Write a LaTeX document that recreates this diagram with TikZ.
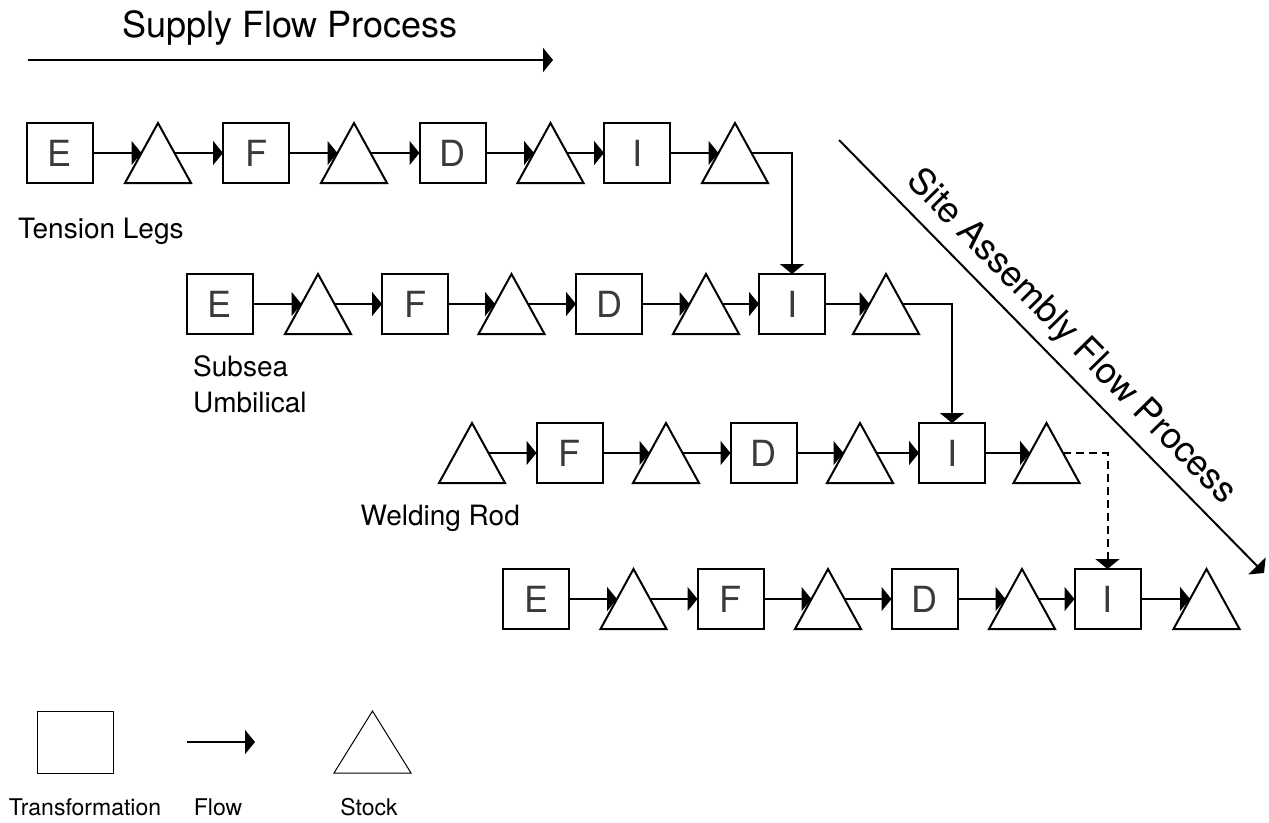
\documentclass[tikz,border=0pt]{standalone}
\usepackage{fontspec}
\setmainfont{TeX Gyre Heros}
\usetikzlibrary{arrows.meta,calc}
\definecolor{lettergray}{HTML}{3A3A3A}
\tikzset{
  trans/.style={draw,line width=2pt,minimum width=66pt,minimum height=60pt,inner sep=0pt,outer sep=0pt,text=lettergray,font=\fontsize{36}{40}\selectfont},
  stock/.style={minimum width=33pt,minimum height=60pt,inner sep=0pt,outer sep=0pt},
  flow/.style={line width=2pt,-{Triangle[length=10pt,width=24pt]}},
  lbl/.style={font=\fontsize{28}{36}\selectfont,inner sep=0pt},
  title/.style={font=\fontsize{36}{40}\selectfont,inner sep=0pt},
  legend/.style={font=\fontsize{23}{28}\selectfont,inner sep=0pt},
}
% triangle drawn round a stock node (node is half as wide as the triangle)
\newcommand{\stocktri}[2][line width=2pt]{%
  \draw[#1] ($(#2.south east)!1.5!(#2.south west)$) -- (#2.north) -- ($(#2.south west)!1.5!(#2.south east)$) -- cycle;}

\begin{document}
\begin{tikzpicture}[x=1pt,y=-1pt]
\useasboundingbox (0,0) rectangle (1269,822);
% supply flow
\node[title,anchor=base west] (sfp) at (122,37) {Supply Flow Process};
\coordinate (sf0) at (28,60);
\coordinate (sf1) at (553,60);
\draw[flow] (sf0) -- (sf1);

% rows E-F-D-I
\foreach \r/\y/\xa/\xb/\xc/\xd/\xe/\xf/\xg/\xh in {1/153/60/158/256/354/452.5/550.5/637/735,2/304/220/318/415/511.5/609/706/792/886,4/599/536/633.5/730.5/828/924.5/1022/1107.5/1206.5}{
  \node[trans] (r\r-b1) at (\xa,\y) {E};
  \node[stock] (r\r-t1) at (\xb,\y) {};
  \node[trans] (r\r-b2) at (\xc,\y) {F};
  \node[stock] (r\r-t2) at (\xd,\y) {};
  \node[trans] (r\r-b3) at (\xe,\y) {D};
  \node[stock] (r\r-t3) at (\xf,\y) {};
  \node[trans] (r\r-b4) at (\xg,\y) {I};
  \node[stock] (r\r-t4) at (\xh,\y) {};
}
% welding rod row
\foreach \n/\x/\l in {2/569.5/F,3/763.5/D,4/952/I}
  \node[trans] (r3-b\n) at (\x,453) {\l};
\foreach \n/\x in {1/472,2/666,3/860,4/1046.5}
  \node[stock] (r3-t\n) at (\x,453) {};

\foreach \r in {1,...,4}{
  \foreach \n in {1,...,4}{\stocktri{r\r-t\n}}}

% flows
\foreach \r in {1,2,4}
  \foreach \n in {1,...,4}
    \draw[flow] (r\r-b\n) -- (r\r-t\n);
\foreach \n in {2,3,4}
  \draw[flow] (r3-b\n) -- (r3-t\n);
\foreach \r in {1,...,4}
  \foreach \n [count=\m from 2] in {1,2,3}
    \draw[flow] (r\r-t\n) -- (r\r-b\m);
\draw[flow] (r1-t4) -| (r2-b4);
\draw[flow] (r2-t4) -| (r3-b4);
\draw[flow,dash pattern=on 8pt off 5pt] (r3-t4) -| (r4-b4);

% site assembly
\coordinate (sa0) at (839,140);
\coordinate (sa1) at (1264,573);
\draw[flow] (sa0) -- (sa1) node[title,midway,sloped,above=9pt] (safp) {Site Assembly Flow Process};

% row labels
\node[lbl,anchor=base west] (tl) at (18,238) {Tension Legs};
\node[lbl,anchor=base west,align=left] (su) at (193,412) {Subsea\\Umbilical};
\node[lbl,anchor=base east] (wr) at (520,525) {Welding Rod};

% legend
\node[draw,line width=1pt,minimum width=76pt,minimum height=62pt] (lgt) at (75,742) {};
\coordinate (lgf0) at (187,742);
\coordinate (lgf1) at (255,742);
\draw[flow] (lgf0) -- (lgf1);
\node[stock,minimum width=38.5pt,minimum height=62pt] (lgs) at (372.5,742) {};
\stocktri[line width=1pt]{lgs}
\node[legend,anchor=base] (lgtl) at (85,815) {Transformation};
\node[legend,anchor=base] (lgfl) at (218,815) {Flow};
\node[legend,anchor=base] (lgsl) at (369,815) {Stock};
\end{tikzpicture}
\end{document}
